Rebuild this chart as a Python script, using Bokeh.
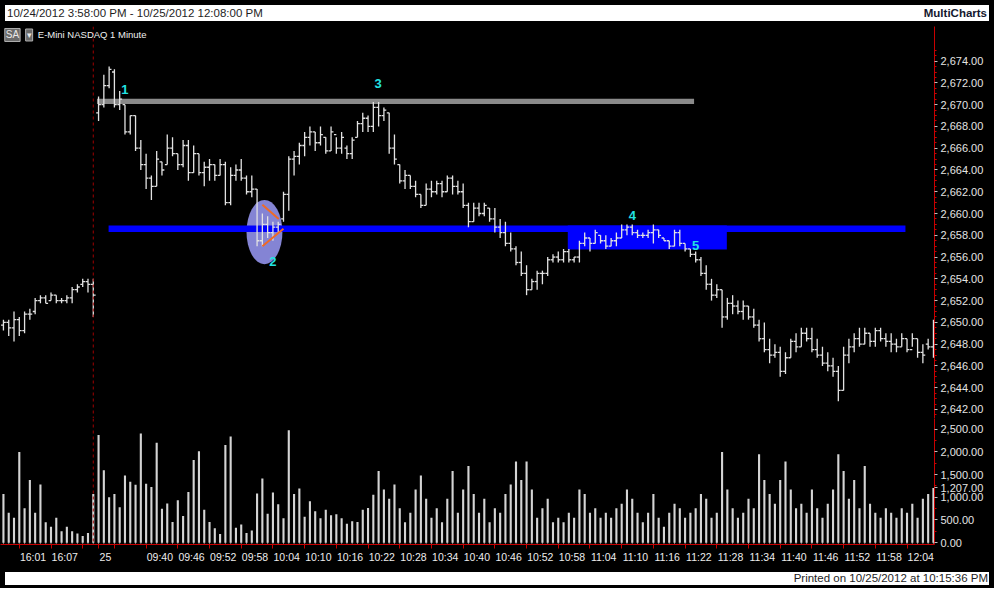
from bokeh.plotting import figure
from bokeh.layouts import column
from bokeh.models import Range1d, FixedTicker, NumeralTickFormatter, Span, Label, ColumnDataSource, Div
from bokeh.embed import file_html
from bokeh.resources import INLINE
from bokeh.core.properties import value

# ---------------- data (1-minute bars, E-Mini NASDAQ) ----------------
open_ = [
    2649.75, 2650.0, 2649.5, 2650.25, 2649.25, 2650.75, 2651.0, 2652.0, 2652.25, 2652.0,
    2652.5, 2652.0, 2652.0, 2652.25, 2653.0, 2653.5, 2653.75, 2653.5, 2669.25, 2670.0,
    2671.75, 2673.0, 2670.0, 2670.0, 2667.5, 2669.0, 2666.0, 2664.5, 2663.25, 2662.5,
    2664.75, 2664.5, 2666.0, 2665.5, 2664.5, 2666.25, 2663.75, 2665.5, 2663.75, 2664.25,
    2664.5, 2663.5, 2664.5, 2661.0, 2663.5, 2664.0, 2663.25, 2662.0, 2662.25, 2657.5,
    2659.0, 2658.25, 2658.75, 2659.5, 2661.75, 2665.0, 2665.25, 2666.25, 2667.0, 2667.5,
    2666.5, 2667.0, 2665.75, 2667.25, 2666.0, 2666.0, 2665.5, 2667.0, 2668.25, 2668.75,
    2668.0, 2669.75, 2669.0, 2669.25, 2666.0, 2664.5, 2663.0, 2663.5, 2662.5, 2661.75,
    2660.75, 2662.25, 2662.0, 2662.75, 2662.0, 2663.25, 2662.5, 2662.0, 2660.75, 2659.25,
    2660.5, 2660.0, 2660.5, 2659.5, 2658.75, 2658.25, 2657.25, 2656.75, 2655.5, 2654.5,
    2653.0, 2653.75, 2654.5, 2654.5, 2655.75, 2656.0, 2655.75, 2656.5, 2655.75, 2656.0,
    2657.25, 2657.75, 2657.25, 2658.0, 2657.5, 2657.0, 2657.5, 2657.75, 2658.5, 2658.75,
    2658.25, 2658.0, 2658.0, 2658.25, 2658.5, 2657.75, 2657.5, 2657.0, 2658.25, 2657.25,
    2656.75, 2656.25, 2655.75, 2654.5, 2653.5, 2652.5, 2653.0, 2650.5, 2651.75, 2651.5,
    2651.0, 2651.5, 2650.5, 2649.75, 2648.5, 2647.5, 2647.0, 2647.25, 2645.5, 2646.75,
    2648.25, 2647.75, 2649.0, 2648.5, 2647.5, 2647.0, 2646.25, 2646.0, 2645.5, 2643.75,
    2647.0, 2647.75, 2648.5, 2648.0, 2649.0, 2648.25, 2649.25, 2648.5, 2648.25, 2648.0,
    2647.75, 2648.5, 2647.5, 2648.5, 2647.25, 2648.0, 2647.75,
]
high_ = [
    2650.25, 2650.25, 2651.0, 2650.5, 2651.0, 2651.25, 2652.25, 2652.5, 2652.5, 2652.75,
    2652.5, 2652.25, 2652.5, 2653.25, 2653.5, 2654.0, 2654.0, 2654.0, 2670.75, 2672.75,
    2673.5, 2673.25, 2671.25, 2670.0, 2669.0, 2669.0, 2666.75, 2665.5, 2663.5, 2665.75,
    2664.75, 2667.25, 2667.0, 2665.5, 2666.75, 2666.75, 2666.25, 2665.5, 2664.75, 2665.0,
    2664.5, 2665.0, 2664.75, 2664.25, 2664.5, 2665.0, 2663.5, 2663.5, 2662.25, 2660.0,
    2659.75, 2659.25, 2659.25, 2662.0, 2665.25, 2665.75, 2666.5, 2667.5, 2668.0, 2667.5,
    2668.0, 2667.0, 2668.0, 2667.0, 2667.5, 2666.25, 2667.0, 2668.5, 2669.25, 2669.0,
    2670.25, 2670.25, 2669.75, 2669.25, 2667.25, 2664.5, 2664.0, 2663.5, 2663.0, 2661.75,
    2662.75, 2663.0, 2663.0, 2663.0, 2663.5, 2663.5, 2663.0, 2662.75, 2661.0, 2661.0,
    2661.0, 2661.0, 2660.5, 2660.5, 2659.5, 2659.25, 2658.25, 2657.0, 2656.5, 2655.25,
    2654.0, 2654.75, 2654.75, 2656.0, 2656.25, 2656.5, 2656.75, 2656.75, 2656.0, 2657.5,
    2658.25, 2657.75, 2658.5, 2658.0, 2658.0, 2657.75, 2658.25, 2659.0, 2659.0, 2659.0,
    2658.5, 2658.25, 2658.5, 2659.0, 2658.5, 2657.75, 2657.5, 2658.5, 2658.5, 2657.25,
    2656.75, 2656.5, 2656.0, 2655.25, 2654.0, 2653.5, 2653.0, 2652.25, 2652.5, 2652.0,
    2652.0, 2651.5, 2651.25, 2650.25, 2650.0, 2648.5, 2648.0, 2647.75, 2647.25, 2648.5,
    2649.0, 2649.5, 2649.5, 2649.5, 2648.5, 2647.75, 2647.25, 2646.75, 2646.0, 2647.75,
    2648.5, 2649.0, 2649.5, 2649.5, 2649.0, 2649.5, 2649.5, 2649.0, 2649.0, 2648.5,
    2649.0, 2648.5, 2649.0, 2648.5, 2648.0, 2648.5, 2650.25,
]
low_ = [
    2649.25, 2648.75, 2648.25, 2648.75, 2649.0, 2650.25, 2650.75, 2651.75, 2651.75, 2652.0,
    2651.75, 2651.75, 2651.75, 2651.75, 2652.75, 2653.25, 2652.75, 2650.5, 2668.5, 2669.75,
    2671.5, 2669.75, 2669.5, 2667.25, 2667.25, 2665.75, 2664.0, 2662.25, 2661.25, 2662.5,
    2663.5, 2664.5, 2665.25, 2664.0, 2664.25, 2663.0, 2663.75, 2663.5, 2662.5, 2663.0,
    2663.0, 2663.5, 2660.75, 2660.75, 2663.0, 2663.0, 2661.75, 2661.5, 2657.0, 2657.0,
    2657.75, 2657.5, 2658.25, 2659.25, 2660.25, 2663.5, 2664.5, 2665.25, 2666.25, 2665.75,
    2666.25, 2665.5, 2665.75, 2665.5, 2665.5, 2665.0, 2665.0, 2667.0, 2667.5, 2667.5,
    2667.5, 2668.0, 2668.5, 2665.5, 2664.5, 2662.75, 2662.25, 2662.25, 2661.5, 2660.5,
    2660.75, 2661.5, 2661.75, 2661.5, 2662.0, 2661.75, 2661.75, 2660.5, 2658.75, 2659.25,
    2659.75, 2659.75, 2659.25, 2658.25, 2657.75, 2657.0, 2656.5, 2655.25, 2654.25, 2652.5,
    2653.0, 2653.0, 2653.5, 2654.25, 2655.5, 2655.5, 2655.5, 2655.5, 2655.5, 2655.5,
    2657.0, 2656.5, 2657.25, 2657.25, 2656.75, 2657.0, 2657.0, 2657.75, 2658.0, 2658.0,
    2657.75, 2657.75, 2657.75, 2657.25, 2657.75, 2657.5, 2656.75, 2657.0, 2657.0, 2656.5,
    2656.0, 2655.5, 2654.25, 2653.0, 2652.0, 2652.25, 2649.5, 2650.25, 2650.75, 2650.75,
    2650.25, 2650.25, 2649.5, 2648.25, 2647.25, 2646.25, 2646.75, 2645.0, 2645.25, 2646.75,
    2647.25, 2647.75, 2648.25, 2647.25, 2646.75, 2646.0, 2645.5, 2645.0, 2642.75, 2643.75,
    2646.25, 2647.25, 2647.75, 2648.0, 2647.75, 2647.75, 2648.25, 2647.75, 2647.25, 2647.25,
    2647.75, 2647.25, 2647.75, 2646.75, 2646.25, 2647.5, 2646.75,
]
close_ = [
    2650.0, 2649.5, 2650.25, 2649.25, 2650.75, 2650.75, 2652.0, 2652.25, 2651.75, 2652.5,
    2652.0, 2652.0, 2652.25, 2653.0, 2653.25, 2653.75, 2653.5, 2652.5, 2670.0, 2671.75,
    2673.25, 2670.0, 2670.5, 2667.5, 2669.0, 2666.0, 2664.5, 2663.25, 2662.5, 2665.0,
    2664.0, 2666.0, 2665.5, 2664.5, 2666.25, 2663.75, 2665.5, 2663.75, 2664.25, 2664.5,
    2663.5, 2664.5, 2661.0, 2663.5, 2664.0, 2663.25, 2662.0, 2662.25, 2657.5, 2659.0,
    2658.25, 2658.75, 2659.0, 2661.75, 2665.0, 2665.25, 2666.25, 2667.0, 2667.5, 2666.5,
    2667.25, 2665.75, 2667.5, 2666.0, 2667.0, 2665.5, 2666.75, 2668.25, 2668.75, 2668.0,
    2669.75, 2669.0, 2669.5, 2666.0, 2665.0, 2663.0, 2663.5, 2662.5, 2661.75, 2660.75,
    2662.25, 2662.0, 2662.75, 2662.0, 2663.25, 2662.5, 2662.0, 2660.75, 2659.25, 2660.5,
    2660.0, 2660.75, 2659.5, 2658.75, 2658.25, 2657.25, 2656.75, 2655.5, 2654.5, 2653.0,
    2653.75, 2654.5, 2654.5, 2655.75, 2656.0, 2655.75, 2656.5, 2655.75, 2656.0, 2657.25,
    2657.75, 2657.25, 2658.25, 2657.5, 2657.0, 2657.5, 2657.75, 2658.5, 2658.75, 2658.25,
    2658.0, 2658.0, 2658.25, 2658.5, 2658.0, 2657.5, 2657.0, 2658.25, 2657.25, 2656.75,
    2656.25, 2655.75, 2654.5, 2653.5, 2652.5, 2653.0, 2650.5, 2651.75, 2651.5, 2651.0,
    2651.5, 2650.5, 2649.75, 2648.5, 2647.5, 2647.0, 2647.25, 2645.5, 2646.75, 2648.25,
    2647.75, 2649.0, 2648.5, 2647.5, 2647.0, 2646.25, 2646.0, 2645.5, 2643.75, 2647.0,
    2647.75, 2648.5, 2648.0, 2649.0, 2648.25, 2649.25, 2648.5, 2648.25, 2648.0, 2647.75,
    2648.5, 2647.5, 2648.5, 2647.25, 2647.0, 2647.75, 2650.0,
]
volume = [
    1070, 660, 550, 2000, 760, 1380, 660, 1280, 450, 350,
    550, 250, 350, 250, 200, 144, 213, 1070, 2373, 1598,
    1001, 1070, 782, 1481, 1344, 1276, 2407, 1296, 1228, 2202,
    748, 864, 453, 933, 590, 1118, 1824, 2016, 727, 453,
    316, 192, 2154, 2339, 329, 398, 213, 268, 1084, 1413,
    638, 1104, 844, 535, 2476, 1070, 1193, 569, 912, 693,
    535, 727, 604, 624, 535, 418, 473, 453, 727, 761,
    1056, 1580, 1170, 970, 1280, 760, 450, 660, 1170, 1480,
    970, 550, 760, 450, 970, 1580, 660, 1170, 1690, 1070,
    660, 970, 450, 760, 660, 1070, 1280, 1790, 1380, 1790,
    1170, 550, 760, 970, 450, 550, 450, 660, 550, 1170,
    1070, 660, 760, 550, 660, 550, 760, 860, 1170, 970,
    660, 450, 660, 1070, 550, 350, 660, 860, 760, 550,
    660, 760, 1070, 970, 550, 660, 2000, 1170, 760, 550,
    660, 970, 760, 1950, 1380, 1070, 860, 1380, 1790, 1170,
    760, 860, 660, 1170, 760, 550, 860, 1170, 1950, 1580,
    970, 1380, 760, 1690, 860, 660, 550, 760, 660, 550,
    760, 660, 860, 550, 970, 1070, 1207,
]

# time axis: bar index of each labelled tick and its text
xtick_idx = [3, 9, 18, 27, 33, 39, 45, 51, 57, 63, 69, 75, 81, 87, 93, 99, 105,
             111, 117, 123, 129, 135, 141, 147, 153, 159, 165, 171]
xtick_lbl = ["16:01", "16:07", "25", "09:40", "09:46", "09:52", "09:58", "10:04",
             "10:10", "10:16", "10:22", "10:28", "10:34", "10:40", "10:46", "10:52",
             "10:58", "11:04", "11:10", "11:16", "11:22", "11:28", "11:34", "11:40",
             "11:46", "11:52", "11:58", "12:04"]
xtick_unlabelled = [15, 21]
session_break = [17]

price_ticks = [2642, 2644, 2646, 2648, 2650, 2652, 2654, 2656, 2658, 2660,
               2662, 2664, 2666, 2668, 2670, 2672, 2674]
volume_ticks = [0, 500, 1000, 1500, 2000, 2500]
last_volume = [1207]

# drawing-tool annotations (bar index / price)
grey_left, grey_right, grey_bottom, grey_top = [17.7], [130.7], [2670.05], [2670.55]
blue_left, blue_right, blue_bottom, blue_top = [19.9, 106.8], [170.7, 136.9], [2658.3, 2656.7], [2658.9, 2658.9]
oval_x, oval_y, oval_w, oval_h = [49.4], [2658.3], [6.8], [5.9]
wedge_x0, wedge_y0, wedge_x1, wedge_y1 = [49.0, 49.0], [2660.8, 2657.0], [52.1, 53.0], [2659.5, 2658.6]
note_x = [23.0, 51.0, 70.9, 119.0, 131.0]
note_y = [2671.35, 2655.55, 2671.97, 2659.86, 2657.1]
note_txt = ["1", "2", "3", "4", "5"]

# ---------------- layout / style ----------------
FONT = "Liberation Sans"
RED = "#C80000"
W, AXW = 984, 50
FW = W - AXW
H_HEAD, H_PRICE, H_VOL, H_XAX, H_FOOT = 16, 392, 126, 19, 13
BAR_COL = "#E2E2E2"

n = len(close_)
idx = list(range(n))
tk = 0.45
src = ColumnDataSource(dict(x=idx, o=open_, h=high_, l=low_, c=close_,
                            xl=[i - tk for i in idx], xr=[i + tk for i in idx]))
xrange_ = Range1d(-0.557, 176.2)


def style_yaxis(ax, ticks, minors):
    ax.ticker = FixedTicker(ticks=ticks, minor_ticks=minors)
    ax.formatter = NumeralTickFormatter(format="0,0.00")
    ax.axis_line_color = RED
    ax.major_tick_line_color = "#BDBDBD"
    ax.major_tick_out = 3
    ax.major_tick_in = 0
    ax.minor_tick_line_color = RED
    ax.minor_tick_out = 2
    ax.minor_tick_in = 0
    ax.major_label_text_color = "#E4E4E4"
    ax.major_label_text_font = FONT
    ax.major_label_text_font_size = "11px"
    ax.major_label_standoff = 3


# header strip
head = Div(width=W, height=H_HEAD, text=(
    "<div style=\"width:%dpx;height:%dpx;background:#ffffff;display:flex;"
    "justify-content:space-between;align-items:center;box-sizing:border-box;"
    "padding:0 2px;font-family:'Liberation Sans';font-size:11.5px;color:#1e1e1e;"
    "white-space:nowrap;overflow:hidden;\"><span>10/24/2012 3:58:00 PM - 10/25/2012 12:08:00 PM</span>"
    "<span style=\"font-weight:bold;color:#14182e;\">MultiCharts</span></div>") % (W, H_HEAD))

# price pane
p = figure(frame_width=FW, frame_height=H_PRICE, x_range=xrange_,
           y_range=Range1d(2641.17, 2677.18), title=None, output_backend="svg",
           toolbar_location=None, x_axis_location=None, y_axis_location="right",
           background_fill_color="black", border_fill_color="black",
           min_border_left=0, min_border_right=AXW, min_border_top=0, min_border_bottom=0)
p.outline_line_color = None
p.grid.visible = False
style_yaxis(p.yaxis[0], price_ticks,
            [t + d for t in price_ticks for d in (-1.0, -0.5, 0.5, 1.0)])

p.ellipse(x=oval_x, y=oval_y, width=oval_w, height=oval_h, fill_color="#8484D4",
          line_color=None)
p.quad(left=grey_left, right=grey_right, bottom=grey_bottom, top=grey_top,
       fill_color="#8A8A8A", line_color=None)
p.quad(left=blue_left, right=blue_right, bottom=blue_bottom, top=blue_top,
       fill_color="#0000FF", line_color=None)
for b in session_break:
    p.add_layout(Span(location=b, dimension="height", line_color="#A00000",
                      line_dash="3 3", line_width=1))
p.segment(x0="x", y0="l", x1="x", y1="h", source=src, line_color=BAR_COL, line_width=1.3)
p.segment(x0="xl", y0="o", x1="x", y1="o", source=src, line_color=BAR_COL, line_width=1.3)
p.segment(x0="x", y0="c", x1="xr", y1="c", source=src, line_color=BAR_COL, line_width=1.3)
p.segment(x0=wedge_x0, y0=wedge_y0, x1=wedge_x1, y1=wedge_y1, line_color="#F06A24",
          line_width=2)
p.text(x=note_x, y=note_y, text=note_txt, text_color="#22E2E2", text_font=value(FONT),
       text_font_size="13px", text_font_style="bold", text_align="center",
       text_baseline="middle")

# chart header row inside the pane
p.add_layout(Label(x=0.25, y=2676.4, text="SA", text_font=FONT, text_font_size="10px",
                   text_color="#E8E8E8", text_baseline="middle",
                   background_fill_color="#6A6A6A", border_line_color="#B0B0B0", padding=1))
p.add_layout(Label(x=4.2, y=2676.4, text="\u25BE", text_font=FONT, text_font_size="9px",
                   text_color="#E8E8E8", text_baseline="middle",
                   background_fill_color="#6A6A6A", border_line_color="#B0B0B0", padding=1))
p.add_layout(Label(x=6.5, y=2676.4, text="E-Mini NASDAQ  1 Minute", text_font=FONT,
                   text_font_size="9.5px", text_color="#F0F0F0", text_baseline="middle"))

# volume pane
v = figure(frame_width=FW, frame_height=H_VOL, x_range=xrange_, y_range=Range1d(-41, 2737),
           title=None, output_backend="svg", toolbar_location=None,
           x_axis_location="below", y_axis_location="right",
           background_fill_color="black", border_fill_color="black",
           min_border_left=0, min_border_right=AXW, min_border_top=0, min_border_bottom=H_XAX)
v.outline_line_color = None
v.grid.visible = False
style_yaxis(v.yaxis[0], sorted(volume_ticks + last_volume), [t + 250 for t in volume_ticks])
for b in session_break:
    v.add_layout(Span(location=b, dimension="height", line_color="#A00000",
                      line_dash="3 3", line_width=1))
v.segment(x0=idx, y0=[-41] * n, x1=idx, y1=[45] * n, line_color="#7A7A7A", line_width=1)
v.vbar(x=idx, top=volume, bottom=0, width=0.4, fill_color="#D4D4D4", line_color=None)

xa = v.xaxis[0]
lbl_pos = [k + (1.3 if len(s) <= 2 else 2.6) for k, s in zip(xtick_idx, xtick_lbl)]
xa.ticker = FixedTicker(ticks=lbl_pos, minor_ticks=sorted(xtick_idx + xtick_unlabelled))
xa.major_label_overrides = {pos: s for pos, s in zip(lbl_pos, xtick_lbl)}
xa.axis_line_color = RED
xa.major_tick_out = 0
xa.major_tick_in = 0
xa.minor_tick_line_color = RED
xa.minor_tick_out = 4
xa.minor_tick_in = 0
xa.major_label_text_color = "#EDEDED"
xa.major_label_text_font = FONT
xa.major_label_text_font_size = "10.5px"
xa.major_label_text_line_height = 1.0
xa.major_label_standoff = 2

# footer strip
foot = Div(width=W, height=H_FOOT, text=(
    "<div style=\"width:%dpx;height:%dpx;background:#ffffff;display:flex;"
    "justify-content:flex-end;align-items:center;box-sizing:border-box;padding:0 1px;"
    "font-family:'Liberation Sans';font-size:11.5px;color:#1e1e1e;white-space:nowrap;"
    "overflow:hidden;\">Printed on 10/25/2012 at 10:15:36 PM</div>") % (W, H_FOOT))

layout = column(head, p, v, foot, spacing=0, styles={"background-color": "black"})
open("out.html", "w").write(file_html(layout, INLINE))
